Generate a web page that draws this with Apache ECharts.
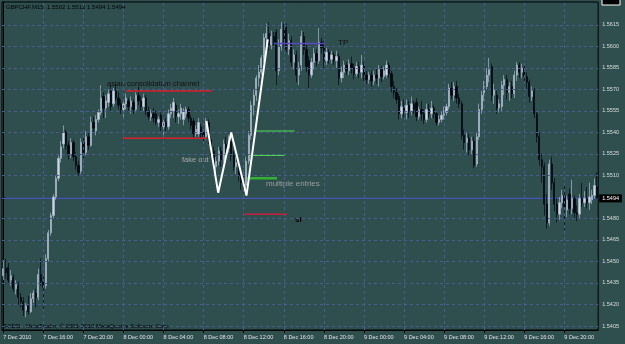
<!DOCTYPE html>
<html><head><meta charset="utf-8">
<script src="https://cdn.jsdelivr.net/npm/echarts@6/dist/echarts.min.js"></script>
<style>html,body{margin:0;padding:0;background:#2f4f4f}#c{width:625px;height:344px}</style>
</head><body><div id="c"></div>
<script>
// ---- data ----
const xTickLabels = ["7 Dec 2010","7 Dec 16:00","7 Dec 20:00","8 Dec 00:00","8 Dec 04:00","8 Dec 08:00","8 Dec 12:00","8 Dec 16:00","8 Dec 20:00","9 Dec 00:00","9 Dec 04:00","9 Dec 08:00","9 Dec 12:00","9 Dec 16:00","9 Dec 20:00"];
const yTicks = [1.5405,1.5420,1.5435,1.5450,1.5465,1.5480,1.5495,1.5510,1.5525,1.5540,1.5555,1.5570,1.5585,1.5600,1.5615];
const bidPrice = 1.5494;
const header = "GBPCHF,M15  1.5502 1.5512 1.5494 1.5494";
// [open, close, low, high] per M15 bar from 7 Dec 12:00
const ohlc = [
[1.5440,1.5445,1.5437,1.5451],[1.5445,1.5442,1.5438,1.5452],[1.5446,1.5437,1.5434,1.5449],[1.5437,1.5440,1.5433,1.5444],
[1.5439,1.5431,1.5429,1.5441],[1.5431,1.5434,1.5427,1.5437],[1.5433,1.5425,1.5420,1.5436],[1.5425,1.5422,1.5418,1.5428],
[1.5422,1.5416,1.5412,1.5425],[1.5416,1.5419,1.5411,1.5421],[1.5419,1.5415,1.5413,1.5426],[1.5415,1.5424,1.5414,1.5428],
[1.5424,1.5428,1.5421,1.5430],[1.5428,1.5425,1.5418,1.5431],[1.5425,1.5441,1.5423,1.5445],[1.5441,1.5436,1.5433,1.5452],
[1.5436,1.5432,1.5416,1.5439],[1.5433,1.5452,1.5431,1.5455],[1.5452,1.5470,1.5450,1.5472],[1.5470,1.5482,1.5468,1.5484],
[1.5482,1.5495,1.5480,1.5497],[1.5495,1.5508,1.5493,1.5510],[1.5508,1.5522,1.5506,1.5524],[1.5522,1.5530,1.5519,1.5534],
[1.5532,1.5540,1.5529,1.5545],[1.5540,1.5531,1.5528,1.5542],[1.5531,1.5525,1.5521,1.5534],[1.5525,1.5533,1.5522,1.5536],
[1.5533,1.5523,1.5520,1.5535],[1.5523,1.5517,1.5514,1.5526],[1.5517,1.5512,1.5510,1.5520],[1.5513,1.5533,1.5511,1.5536],
[1.5533,1.5526,1.5522,1.5537],[1.5526,1.5537,1.5524,1.5541],[1.5537,1.5531,1.5528,1.5540],[1.5531,1.5547,1.5530,1.5551],
[1.5547,1.5543,1.5540,1.5551],[1.5541,1.5549,1.5538,1.5552],[1.5549,1.5554,1.5547,1.5556],[1.5554,1.5564,1.5552,1.5573],
[1.5565,1.5557,1.5550,1.5568],[1.5557,1.5562,1.5550,1.5566],[1.5561,1.5567,1.5558,1.5570],[1.5569,1.5558,1.5555,1.5573],
[1.5560,1.5569,1.5558,1.5571],[1.5569,1.5564,1.5562,1.5574],[1.5564,1.5559,1.5556,1.5568],[1.5560,1.5556,1.5553,1.5563],
[1.5556,1.5560,1.5549,1.5563],[1.5560,1.5564,1.5556,1.5567],[1.5562,1.5558,1.5555,1.5564],[1.5558,1.5562,1.5553,1.5565],
[1.5561,1.5556,1.5553,1.5563],[1.5556,1.5566,1.5554,1.5568],[1.5566,1.5562,1.5559,1.5572],[1.5562,1.5558,1.5555,1.5565],
[1.5558,1.5564,1.5555,1.5567],[1.5564,1.5555,1.5552,1.5566],[1.5555,1.5551,1.5549,1.5558],[1.5551,1.5553,1.5548,1.5556],
[1.5553,1.5550,1.5547,1.5557],[1.5553,1.5547,1.5545,1.5555],[1.5547,1.5549,1.5544,1.5551],[1.5552,1.5544,1.5541,1.5554],
[1.5544,1.5547,1.5537,1.5550],[1.5547,1.5544,1.5541,1.5550],[1.5544,1.5553,1.5542,1.5556],[1.5553,1.5557,1.5550,1.5560],
[1.5555,1.5561,1.5550,1.5564],[1.5559,1.5551,1.5547,1.5561],[1.5551,1.5553,1.5546,1.5556],[1.5553,1.5557,1.5549,1.5560],
[1.5549,1.5555,1.5545,1.5557],[1.5553,1.5556,1.5550,1.5558],[1.5556,1.5550,1.5547,1.5558],[1.5550,1.5545,1.5542,1.5552],
[1.5548,1.5539,1.5536,1.5550],[1.5539,1.5542,1.5537,1.5545],[1.5539,1.5547,1.5537,1.5550],[1.5544,1.5539,1.5536,1.5546],
[1.5540,1.5537,1.5534,1.5542],[1.5537,1.5547,1.5535,1.5550],[1.5547,1.5535,1.5532,1.5549],[1.5535,1.5527,1.5524,1.5537],
[1.5527,1.5516,1.5513,1.5530],[1.5516,1.5520,1.5510,1.5523],[1.5520,1.5527,1.5517,1.5530],[1.5527,1.5521,1.5516,1.5530],
[1.5521,1.5532,1.5519,1.5535],[1.5532,1.5529,1.5525,1.5537],[1.5529,1.5534,1.5526,1.5538],[1.5534,1.5524,1.5520,1.5536],
[1.5524,1.5516,1.5513,1.5527],[1.5516,1.5519,1.5511,1.5523],[1.5519,1.5510,1.5506,1.5521],[1.5510,1.5505,1.5500,1.5513],
[1.5505,1.5503,1.5498,1.5510],[1.5503,1.5520,1.5500,1.5523],[1.5520,1.5538,1.5518,1.5541],[1.5538,1.5559,1.5535,1.5562],
[1.5559,1.5566,1.5552,1.5570],[1.5566,1.5578,1.5562,1.5580],[1.5578,1.5582,1.5572,1.5587],[1.5582,1.5592,1.5580,1.5594],
[1.5592,1.5606,1.5589,1.5609],[1.5606,1.5609,1.5599,1.5616],[1.5609,1.5601,1.5597,1.5617],[1.5601,1.5607,1.5598,1.5611],
[1.5607,1.5603,1.5600,1.5610],[1.5610,1.5583,1.5573,1.5612],[1.5583,1.5600,1.5580,1.5605],[1.5600,1.5612,1.5597,1.5617],
[1.5612,1.5605,1.5600,1.5616],[1.5613,1.5598,1.5596,1.5616],[1.5598,1.5604,1.5594,1.5609],[1.5604,1.5589,1.5586,1.5607],
[1.5589,1.5594,1.5584,1.5598],[1.5594,1.5580,1.5575,1.5597],[1.5580,1.5585,1.5573,1.5589],[1.5587,1.5607,1.5583,1.5611],
[1.5607,1.5598,1.5594,1.5610],[1.5598,1.5586,1.5582,1.5601],[1.5590,1.5580,1.5571,1.5593],[1.5580,1.5589,1.5578,1.5592],
[1.5589,1.5595,1.5584,1.5599],[1.5595,1.5590,1.5586,1.5598],[1.5590,1.5603,1.5588,1.5613],[1.5603,1.5599,1.5595,1.5606],
[1.5599,1.5590,1.5585,1.5604],[1.5590,1.5596,1.5587,1.5599],[1.5596,1.5591,1.5588,1.5598],[1.5591,1.5594,1.5588,1.5597],
[1.5594,1.5590,1.5587,1.5596],[1.5590,1.5593,1.5585,1.5597],[1.5593,1.5578,1.5573,1.5595],[1.5578,1.5582,1.5575,1.5586],
[1.5582,1.5587,1.5578,1.5590],[1.5587,1.5583,1.5580,1.5589],[1.5583,1.5588,1.5580,1.5591],[1.5588,1.5585,1.5581,1.5593],
[1.5585,1.5581,1.5577,1.5588],[1.5581,1.5586,1.5579,1.5589],[1.5586,1.5582,1.5578,1.5589],[1.5582,1.5587,1.5578,1.5594],
[1.5587,1.5580,1.5576,1.5589],[1.5580,1.5577,1.5574,1.5583],[1.5577,1.5580,1.5574,1.5582],[1.5580,1.5576,1.5572,1.5583],
[1.5576,1.5580,1.5573,1.5583],[1.5580,1.5578,1.5574,1.5584],[1.5578,1.5584,1.5572,1.5587],[1.5584,1.5579,1.5575,1.5586],
[1.5579,1.5583,1.5577,1.5586],[1.5580,1.5587,1.5578,1.5590],[1.5587,1.5581,1.5578,1.5589],[1.5581,1.5572,1.5568,1.5583],
[1.5572,1.5568,1.5564,1.5576],[1.5568,1.5563,1.5560,1.5571],[1.5565,1.5553,1.5549,1.5567],[1.5553,1.5558,1.5550,1.5562],
[1.5558,1.5554,1.5550,1.5563],[1.5554,1.5559,1.5549,1.5563],[1.5559,1.5555,1.5550,1.5562],[1.5555,1.5560,1.5552,1.5565],
[1.5560,1.5556,1.5553,1.5562],[1.5561,1.5551,1.5548,1.5564],[1.5551,1.5556,1.5549,1.5558],[1.5556,1.5553,1.5548,1.5562],
[1.5553,1.5549,1.5546,1.5556],[1.5549,1.5556,1.5547,1.5560],[1.5556,1.5553,1.5550,1.5560],[1.5553,1.5557,1.5550,1.5562],
[1.5557,1.5553,1.5550,1.5559],[1.5553,1.5547,1.5545,1.5555],[1.5547,1.5549,1.5545,1.5552],[1.5549,1.5552,1.5547,1.5555],
[1.5552,1.5555,1.5549,1.5558],[1.5554,1.5558,1.5552,1.5560],[1.5558,1.5571,1.5556,1.5574],[1.5571,1.5566,1.5563,1.5575],
[1.5566,1.5572,1.5562,1.5575],[1.5572,1.5564,1.5560,1.5576],[1.5564,1.5560,1.5557,1.5567],[1.5560,1.5538,1.5535,1.5562],
[1.5538,1.5533,1.5528,1.5542],[1.5533,1.5536,1.5526,1.5540],[1.5536,1.5528,1.5524,1.5539],[1.5528,1.5534,1.5525,1.5537],
[1.5534,1.5517,1.5515,1.5537],[1.5518,1.5537,1.5516,1.5540],[1.5537,1.5556,1.5535,1.5560],[1.5556,1.5566,1.5553,1.5569],
[1.5566,1.5572,1.5562,1.5576],[1.5572,1.5580,1.5570,1.5585],[1.5580,1.5584,1.5575,1.5592],[1.5586,1.5566,1.5562,1.5588],
[1.5566,1.5570,1.5560,1.5574],[1.5566,1.5557,1.5553,1.5569],[1.5557,1.5560,1.5554,1.5563],[1.5558,1.5573,1.5555,1.5576],
[1.5573,1.5577,1.5566,1.5580],[1.5577,1.5568,1.5563,1.5580],[1.5568,1.5572,1.5562,1.5575],[1.5572,1.5567,1.5564,1.5576],
[1.5567,1.5580,1.5564,1.5583],[1.5580,1.5587,1.5576,1.5589],[1.5587,1.5582,1.5578,1.5589],[1.5582,1.5585,1.5578,1.5588],
[1.5585,1.5579,1.5575,1.5587],[1.5579,1.5575,1.5570,1.5582],[1.5575,1.5565,1.5561,1.5577],[1.5565,1.5569,1.5562,1.5572],
[1.5569,1.5553,1.5550,1.5571],[1.5553,1.5537,1.5533,1.5555],[1.5537,1.5521,1.5517,1.5540],[1.5521,1.5516,1.5505,1.5525],
[1.5516,1.5490,1.5482,1.5519],[1.5490,1.5477,1.5473,1.5497],[1.5477,1.5518,1.5475,1.5521],[1.5518,1.5505,1.5500,1.5523],
[1.5505,1.5490,1.5485,1.5508],[1.5490,1.5483,1.5477,1.5494],[1.5483,1.5491,1.5479,1.5495],[1.5491,1.5496,1.5487,1.5500],
[1.5496,1.5488,1.5472,1.5503],[1.5486,1.5493,1.5481,1.5496],[1.5497,1.5487,1.5483,1.5501],[1.5487,1.5494,1.5483,1.5507],
[1.5494,1.5484,1.5480,1.5496],[1.5484,1.5483,1.5478,1.5489],[1.5483,1.5494,1.5480,1.5497],[1.5494,1.5491,1.5488,1.5505],
[1.5491,1.5494,1.5488,1.5499],[1.5494,1.5491,1.5487,1.5502],[1.5491,1.5495,1.5486,1.5505],[1.5493,1.5496,1.5490,1.5500],
[1.5496,1.5503,1.5494,1.5508],[1.5502,1.5494,1.5494,1.5512]
];
// drawn objects: [bar index, price]
const channelTop = [[49.0,1.5569],[83.3,1.5569]];
const channelBottom = [[47.7,1.5536],[81.1,1.5536]];
const zigzag = [[81.1,1.5548],[85.8,1.5498],[91.0,1.5540],[97.1,1.5496],[105.6,1.5605]];
const entry1 = [[100.4,1.5541],[116.3,1.5541]];
const entry2 = [[98.4,1.5524],[112.3,1.5524]];
const entry3 = [[97.4,1.5508],[109.3,1.5508]];
const stopLoss = [[96.3,1.5483],[113.2,1.5483]];
const takeProfit = [[108.2,1.5602],[128.5,1.5602]];

// ---- categories (M15 bars from 7 Dec 12:00) ----
const categories = [];
for (let i = 0; i < ohlc.length; i++) {
  const m = 12*60 + i*15;
  const d = 7 + Math.floor(m/1440), mm = m % 1440;
  categories.push(d + ' Dec ' + String(Math.floor(mm/60)).padStart(2,'0') + ':' + String(mm%60).padStart(2,'0'));
}

const FONT = '"Liberation Sans", Arial, sans-serif';
const gridColor = '#4a5c92';
const yMin = 1.54022, yMax = 1.56310;
const noSplit = {splitLine:{show:false}, minorSplitLine:{show:false}, splitArea:{show:false}, minorTick:{show:false}};
const chart = echarts.init(document.getElementById('c'), null, {renderer:'canvas'});

function lineSeries(name, data, color, width) {
  return {type:'line', name, xAxisIndex:1, data, symbol:'none', silent:true, animation:false, z:5,
    lineStyle:{color, width}};
}

chart.setOption({
  backgroundColor:'#2f4f4f',
  animation:false,
  grid:{left:2, right:24, top:2, bottom:14, show:true, borderColor:'#000', borderWidth:1, backgroundColor:'transparent'},
  xAxis:[Object.assign({
    type:'category', data:categories, boundaryGap:true,
    axisLine:{show:true, lineStyle:{color:'#000', width:1}},
    axisTick:{show:true, interval:15, alignWithLabel:true, length:3, lineStyle:{color:'#000'}},
    axisLabel:{interval:15, align:'left', margin:4, color:'#e4e4e4', fontSize:5.5, fontFamily:FONT,
      formatter:(v, idx) => xTickLabels[idx/16] || ''}
  }, noSplit), Object.assign({
    type:'value', min:-0.5, max:ohlc.length-0.5, show:false
  }, noSplit)],
  yAxis:[Object.assign({
    type:'value', position:'right', min:yMin, max:yMax,
    axisLine:{show:true, lineStyle:{color:'#000', width:1}},
    axisTick:{show:true, length:2, customValues:yTicks, lineStyle:{color:'#000'}},
    axisLabel:{customValues:yTicks.filter(v => Math.abs(v-1.5495)>1e-6), margin:4, color:'#dcdcdc', fontSize:5.5, fontFamily:FONT,
      formatter:v => v.toFixed(4)}
  }, noSplit), Object.assign({
    type:'value', position:'right', min:yMin, max:yMax,
    axisLine:{show:false}, axisTick:{show:false},
    axisLabel:{customValues:[bidPrice], margin:1, color:'#fff', backgroundColor:'#000', padding:[1,3,1,3],
      fontSize:5.5, fontFamily:FONT, formatter:v => v.toFixed(4)}
  }, noSplit)],
  graphic:[
    {type:'text', left:6, top:4, style:{text:header, fill:'#000', font:'6px '+FONT}},
    {type:'text', left:4, top:323.5, style:{text:'FXDD - MetaTrader, \u00a9 2001-2010 MetaQuotes Software Corp.', fill:'#000', font:'6px '+FONT}},
    {type:'text', left:107, top:80, style:{text:'asian consolidation channel', fill:'#111', font:'7.5px '+FONT}},
    {type:'text', left:182, top:156, style:{text:'fake out', fill:'#a6a6a6', font:'7.5px '+FONT}},
    {type:'text', left:266, top:180, style:{text:'multiple entries', fill:'#9e9e9e', font:'8px '+FONT}},
    {type:'text', left:295, top:216, style:{text:'sl', fill:'#000', font:'bold 8px '+FONT}},
    {type:'text', left:338, top:39, style:{text:'TP', fill:'#111', font:'8px '+FONT}},
    {type:'rect', shape:{x:602, y:-1, width:18, height:6}, style:{fill:'#000', stroke:'#fff', lineWidth:1}}
  ],
  series:[
    {
      type:'line', name:'grid', xAxisIndex:1, data:[[-0.5,bidPrice],[ohlc.length-0.5,bidPrice]],
      symbol:'none', silent:true, z:1, lineStyle:{color:'#4654b8', width:1.2},
      markLine:{
        silent:true, symbol:['none','none'], animation:false, precision:6,
        lineStyle:{color:gridColor, type:[3,3], width:1},
        label:{show:false},
        data:[
          ...yTicks.filter(v => Math.abs(v-1.5495)>1e-6).map(v => ({yAxis:v})),
          ...xTickLabels.slice(1).map((t,k) => ({xAxis:(k+1)*16}))
        ]
      }
    },
    {
      type:'candlestick', data:ohlc, z:3, barWidth:1.8, silent:true,
      itemStyle:{color:'#ccd8e4', color0:'#06060e', borderColor:'#a6b6c8', borderColor0:'#06060e', borderWidth:0.7}
    },
    lineSeries('channelTop', channelTop, '#d8202a', 1.5),
    lineSeries('channelBottom', channelBottom, '#d8202a', 1.5),
    lineSeries('entry1', entry1, '#4ee04e', 1),
    lineSeries('entry2', entry2, '#4ee04e', 1),
    lineSeries('entry3', entry3, '#34b034', 2.5),
    lineSeries('stopLoss', stopLoss, '#c8203c', 1.5),
    lineSeries('takeProfit', takeProfit, '#5a48c0', 1.5),
    lineSeries('zigzag', zigzag, '#ffffff', 2)
  ]
});
</script></body></html>
